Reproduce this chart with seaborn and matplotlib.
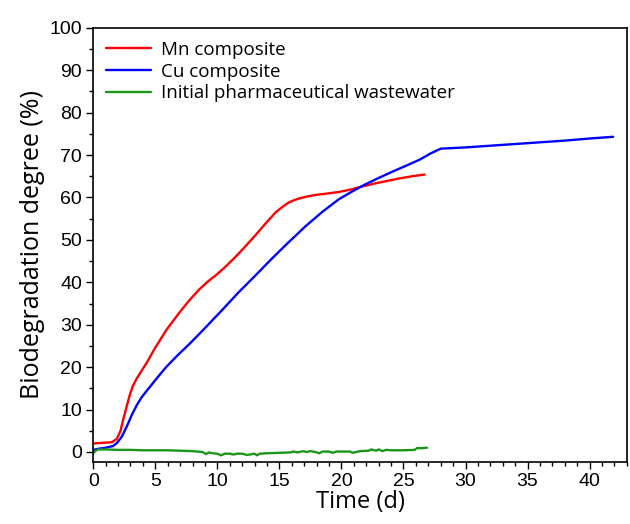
import seaborn as sns
import matplotlib.pyplot as plt
import pandas as pd
from matplotlib.ticker import MultipleLocator

# Mn composite (red)
mn_t = [0, 0.5, 1.0, 1.5, 1.9, 2.2, 2.4, 2.7, 2.95, 3.2, 3.5, 3.8, 4.3, 5.0, 5.9, 6.9, 7.7, 8.5, 9.2, 9.9, 10.7, 11.5, 12.3, 13.1, 13.9, 14.7, 15.3, 15.8, 16.5, 17.2, 17.9, 18.8, 19.8, 20.8, 21.7, 22.7, 23.7, 24.7, 25.7, 26.7]
mn_y = [2.0, 2.1, 2.2, 2.3, 3.1, 5.0, 7.5, 10.8, 13.5, 15.6, 17.3, 18.7, 21.0, 24.6, 28.8, 32.7, 35.6, 38.2, 40.1, 41.7, 43.8, 46.1, 48.6, 51.2, 53.9, 56.5, 57.9, 58.9, 59.7, 60.2, 60.6, 60.9, 61.3, 61.9, 62.6, 63.3, 63.9, 64.5, 65.0, 65.4]

# Cu composite (blue)
cu_t = [0, 0.5, 1.0, 1.6, 1.9, 2.3, 2.7, 3.1, 3.5, 3.9, 4.3, 5.1, 5.9, 6.8, 7.8, 9.0, 10.4, 11.7, 13.1, 14.4, 15.8, 17.1, 18.5, 19.8, 20.8, 21.8, 23.0, 24.2, 25.3, 26.3, 27.2, 28.0, 30.0, 32.0, 34.0, 36.0, 38.0, 40.0, 41.9]
cu_y = [0.5, 0.8, 1.0, 1.4, 2.1, 3.6, 6.0, 8.7, 11.0, 12.9, 14.4, 17.3, 20.1, 22.8, 25.6, 29.2, 33.5, 37.6, 41.7, 45.6, 49.6, 53.2, 56.7, 59.6, 61.3, 62.9, 64.6, 66.2, 67.6, 68.9, 70.4, 71.5, 71.8, 72.2, 72.6, 73.0, 73.4, 73.9, 74.3]

# Initial pharmaceutical wastewater (green)
ww_t = [0, 0.2, 0.4, 1.0, 2.0, 3.0, 4.0, 5.0, 6.0, 7.0, 8.0, 8.8, 9.1, 9.3, 9.6, 10.0, 10.3, 10.6, 11.0, 11.3, 11.6, 12.0, 12.4, 13.0, 13.2, 13.4, 14.0, 15.0, 15.9, 16.1, 16.5, 16.9, 17.2, 17.5, 17.9, 18.2, 18.5, 19.0, 19.3, 19.6, 20.0, 20.7, 20.9, 21.5, 22.2, 22.4, 22.8, 23.0, 23.3, 23.6, 24.0, 25.0, 25.9, 26.1, 26.5, 26.9]
ww_y = [-0.3, 0.3, 0.6, 0.6, 0.5, 0.5, 0.4, 0.4, 0.4, 0.3, 0.2, 0.0, -0.5, -0.1, -0.3, -0.4, -0.8, -0.4, -0.4, -0.6, -0.4, -0.4, -0.7, -0.4, -0.8, -0.4, -0.3, -0.2, -0.1, 0.1, -0.1, 0.2, 0.0, 0.2, 0.0, -0.3, 0.1, 0.1, -0.2, 0.1, 0.1, 0.1, -0.2, 0.2, 0.3, 0.6, 0.3, 0.6, 0.2, 0.5, 0.4, 0.4, 0.5, 0.9, 0.9, 1.0]

labels = ["Mn composite", "Cu composite", "Initial pharmaceutical wastewater"]
colors = ["#ff0000", "#0000ff", "#1a961a"]

frames = []
for lab, t, y in zip(labels, [mn_t, cu_t, ww_t], [mn_y, cu_y, ww_y]):
    frames.append(pd.DataFrame({"Time": t, "Degree": y, "Series": lab}))
df = pd.concat(frames, ignore_index=True)

sns.set_style("ticks")
plt.rcParams['font.family'] = ['Liberation Sans', 'DejaVu Sans']
plt.rcParams['text.color'] = 'black'
plt.rcParams['axes.labelcolor'] = 'black'
label_font = ["Open Sans", "DejaVu Sans"]

fig = plt.figure(figsize=(6.3, 5.24), dpi=100)
ax = fig.add_axes([0.148, 0.118, 0.847, 0.829])

sns.lineplot(data=df, x="Time", y="Degree", hue="Series", hue_order=labels,
             palette=colors, sort=False, estimator=None, linewidth=1.7, ax=ax)

ax.set_xlim(0, 43)
ax.set_ylim(-2.4, 100)
ax.xaxis.set_major_locator(MultipleLocator(5))
ax.xaxis.set_minor_locator(MultipleLocator(1))
ax.yaxis.set_major_locator(MultipleLocator(10))
ax.yaxis.set_minor_locator(MultipleLocator(5))
ax.tick_params(which="major", direction="out", length=5, width=1, labelsize=14, colors="black", pad=3)
ax.tick_params(which="minor", direction="out", length=3, width=1, colors="black")
for s in ax.spines.values():
    s.set_visible(True)
    s.set_linewidth(1.2)
    s.set_color("black")

ax.set_xlabel("Time (d)", fontsize=17, family=label_font, labelpad=0)
ax.set_ylabel("Biodegradation degree (%)", fontsize=18, family=label_font, labelpad=3)

leg = ax.legend(loc="upper left", frameon=False, handlelength=2.4,
                handletextpad=0.5, labelspacing=0.2, borderaxespad=0.3,
                prop={"family": label_font, "size": 13.5})
for line in leg.get_lines():
    line.set_linewidth(1.7)

plt.savefig("out.png", dpi=100)
